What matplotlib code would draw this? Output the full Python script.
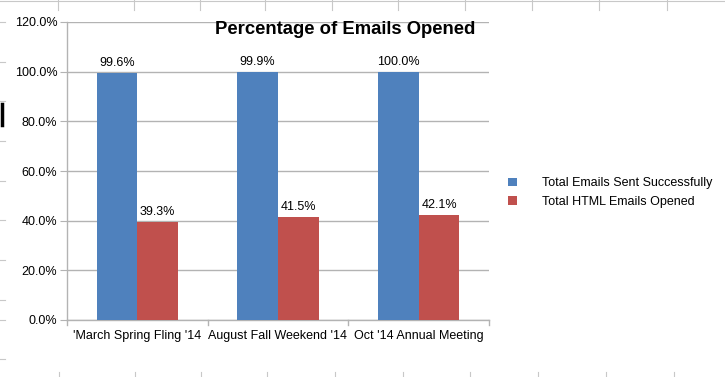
import numpy as np
import matplotlib.pyplot as plt
from matplotlib.lines import Line2D

plt.rcParams['font.family'] = ['Liberation Sans', 'DejaVu Sans']

# data
categories = ["'March Spring Fling '14", "August Fall Weekend '14", "Oct '14 Annual Meeting"]
sent = [99.6, 99.9, 100.0]
opened = [39.3, 41.5, 42.1]
series_names = ["Total Emails Sent Successfully", "Total HTML Emails Opened"]

W, H = 725, 377
fig = plt.figure(figsize=(W / 100, H / 100), dpi=100)

# faint spreadsheet cell lines behind the chart
grid_c = '#c8c8c8'
for x in [58, 134, 200, 265, 332, 398, 465, 532, 599, 667]:
    fig.add_artist(Line2D([x / W, x / W], [1, 1 - 10 / H], color=grid_c, lw=0.8))
for x in [59, 135, 201, 267, 335, 403, 470, 538, 606, 674]:
    fig.add_artist(Line2D([x / W, x / W], [0, 5 / H], color=grid_c, lw=0.8))
fig.add_artist(Line2D([0, 1], [1 - 1 / H, 1 - 1 / H], color=grid_c, lw=0.8))
for y in [22, 62, 101, 141, 181, 220, 260, 300, 320, 359]:
    fig.add_artist(Line2D([0, 5 / W], [1 - y / H, 1 - y / H], color=grid_c, lw=0.8))
fig.add_artist(Line2D([2 / W, 2 / W], [1 - 104 / H, 1 - 125 / H], color='black', lw=2.5))

left, right, top, bottom = 67, 489, 22, 320
ax = fig.add_axes([left / W, 1 - bottom / H, (right - left) / W, (bottom - top) / H])

x = np.arange(len(categories))
bw = 0.29
blue, red = '#4f81bd', '#c0504d'
b1 = ax.bar(x - bw / 2, sent, bw, color=blue, label=series_names[0], zorder=3)
b2 = ax.bar(x + bw / 2, opened, bw, color=red, label=series_names[1], zorder=3)

for bars, vals in [(b1, sent), (b2, opened)]:
    for r, v in zip(bars, vals):
        ax.text(r.get_x() + r.get_width() / 2, v + 1.6, f"{v:.1f}%",
                ha='center', va='bottom', fontsize=9)

ax.set_xlim(-0.5, 2.5)
ax.set_ylim(0, 120)
ax.set_yticks(np.arange(0, 121, 20))
ax.set_yticklabels([f"{v:.1f}%" for v in np.arange(0, 121, 20)], fontsize=9)
ax.set_xticks(x)
ax.set_xticklabels(categories, fontsize=9)
ax.tick_params(axis='x', length=0, pad=7)
ax.tick_params(axis='y', length=5, color='#b3b3b3', pad=2)
for xb in [-0.5, 0.5, 1.5, 2.5]:
    ax.plot([xb, xb], [0, -2.2], color='#b3b3b3', lw=1, clip_on=False)

ax.yaxis.grid(True, color='#b3b3b3', lw=1, zorder=0)
for s in ['top', 'right']:
    ax.spines[s].set_visible(False)
for s in ['left', 'bottom']:
    ax.spines[s].set_color('#b3b3b3')
    ax.spines[s].set_linewidth(1)

fig.text(345 / W, 1 - 29 / H, "Percentage of Emails Opened", ha='center', va='center',
         fontsize=13.3, fontweight='bold')

fig.legend(handles=[b1, b2], labels=series_names, loc='upper left',
           bbox_to_anchor=(497 / W, 1 - 166 / H), frameon=False, fontsize=9,
           handlelength=0.7, handleheight=0.7, handletextpad=2.0, labelspacing=0.5)

fig.savefig('out.png', dpi=100)
